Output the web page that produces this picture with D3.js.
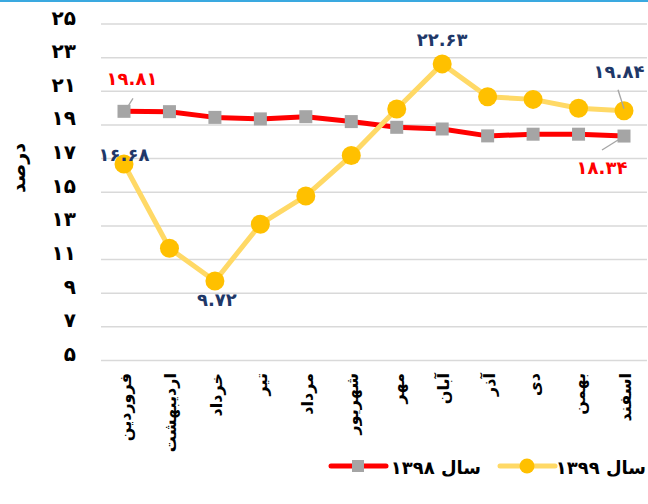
<!DOCTYPE html>
<html>
<head>
<meta charset="utf-8">
<script src="https://cdn.jsdelivr.net/npm/d3@7"></script>
<style>
  html, body { margin: 0; padding: 0; background: #fff; }
  svg { display: block; font-family: "DejaVu Sans", "Noto Sans", sans-serif; }
</style>
</head>
<body>
<svg id="chart" width="648" height="504"></svg>
<script>
// ---- data ----
const months = ["فروردین", "اردیبهشت", "خرداد", "تیر", "مرداد", "شهریور", "مهر", "آبان", "آذر", "دی", "بهمن", "اسفند"];
const series1398 = [19.81, 19.79, 19.45, 19.36, 19.49, 19.20, 18.86, 18.76, 18.35, 18.45, 18.45, 18.34];
const series1399 = [16.68, 11.67, 9.72, 13.10, 14.78, 17.18, 19.95, 22.63, 20.68, 20.52, 19.99, 19.84];
const yTicks = [5, 7, 9, 11, 13, 15, 17, 19, 21, 23, 25];
const seriesNames = ["سال ۱۳۹۸", "سال ۱۳۹۹"];
const yTitle = "درصد";

const fa = s => String(s).replace(/[0-9]/g, d => "۰۱۲۳۴۵۶۷۸۹"[+d]);
const fmt = v => fa(v.toFixed(2));

const svg = d3.select("#chart");

// top blue border
svg.append("rect").attr("x", 0).attr("y", 0).attr("width", 648).attr("height", 2).attr("fill", "#3aa9e0");

const x = d3.scalePoint().domain(months).range([124, 624]);
const y = d3.scaleLinear().domain([5, 25]).range([360.5, 24]);

// gridlines
svg.append("g").selectAll("line").data(yTicks).join("line")
  .attr("x1", 101).attr("x2", 647)
  .attr("y1", d => y(d)).attr("y2", d => y(d))
  .attr("stroke", "#d9d9d9").attr("stroke-width", 1.5);

// y axis labels
const yAxis = d3.axisLeft(y).tickValues(yTicks).tickFormat(d => fa(d)).tickSize(0).tickPadding(0);
const yg = svg.append("g").attr("transform", "translate(76,0)").call(yAxis);
yg.select(".domain").remove();
yg.selectAll("text")
  .attr("font-family", "DejaVu Sans").attr("font-weight", "bold")
  .attr("font-size", 20).attr("fill", "#000").attr("dy", "0em");

// y title
svg.append("text")
  .attr("transform", "translate(18,168) rotate(-90)")
  .attr("text-anchor", "middle").attr("dy", "0.35em")
  .attr("font-weight", "bold").attr("font-size", 19).attr("fill", "#000")
  .text(yTitle);

// x axis labels
const xAxis = d3.axisBottom(x).tickSize(0).tickPadding(0);
const xg = svg.append("g").attr("transform", "translate(0,373)").call(xAxis);
xg.select(".domain").remove();
xg.selectAll("text")
  .attr("font-family", "DejaVu Sans").attr("font-weight", "bold")
  .attr("font-size", 16).attr("fill", "#000")
  .attr("text-anchor", "end")
  .attr("transform", "rotate(-90)")
  .attr("x", 0).attr("y", 0).attr("dy", "0.4em");

const line = d3.line().x((d, i) => x(months[i])).y(d => y(d));

// series 1398
svg.append("path").datum(series1398).attr("d", line)
  .attr("fill", "none").attr("stroke", "#ff0000").attr("stroke-width", 5).attr("stroke-linejoin", "round");
svg.append("g").selectAll("rect").data(series1398).join("rect")
  .attr("x", (d, i) => x(months[i]) - 6.5).attr("y", d => y(d) - 6.5)
  .attr("width", 13).attr("height", 13).attr("fill", "#a5a5a5");

// series 1399
svg.append("path").datum(series1399).attr("d", line)
  .attr("fill", "none").attr("stroke", "#ffd966").attr("stroke-width", 5).attr("stroke-linejoin", "round");
svg.append("g").selectAll("circle").data(series1399).join("circle")
  .attr("cx", (d, i) => x(months[i])).attr("cy", d => y(d))
  .attr("r", 9.5).attr("fill", "#ffc000");

// leader lines
function leader(i, s, dx1, dy1, dx2, dy2) {
  const px = x(months[i]), py = y(s[i]);
  svg.append("line").attr("x1", px + dx1).attr("y1", py + dy1).attr("x2", px + dx2).attr("y2", py + dy2)
    .attr("stroke", "#a5a5a5").attr("stroke-width", 1.3);
}
leader(0, series1398, 4, -5, 9, -13);
leader(11, series1398, -6, 4, -22, 14);
leader(11, series1399, 0, -2, -6, -21);

// data labels
function dlabel(i, s, dx, dy, color, anchor) {
  svg.append("text")
    .attr("x", x(months[i]) + dx).attr("y", y(s[i]) + dy)
    .attr("text-anchor", anchor || "middle")
    .attr("font-weight", "bold").attr("font-size", 18).attr("fill", color)
    .text(fmt(s[i]));
}
const red = "#ff0000", navy = "#1f3868";
dlabel(0, series1398, 8, -26, red);
dlabel(11, series1398, -22, 38, red);
dlabel(0, series1399, 0, -3, navy);
dlabel(2, series1399, 2, 25, navy);
dlabel(7, series1399, 0, -18, navy);
dlabel(11, series1399, -5, -33, navy);

// legend
const ly = 466;
const lg = svg.append("g");
// 1398
lg.append("line").attr("x1", 331).attr("x2", 386).attr("y1", ly).attr("y2", ly)
  .attr("stroke", "#ff0000").attr("stroke-width", 5).attr("stroke-linecap", "round");
lg.append("rect").attr("x", 352).attr("y", ly - 6).attr("width", 12).attr("height", 12).attr("fill", "#a5a5a5");
lg.append("text").attr("x", 481).attr("y", ly + 8).attr("text-anchor", "end")
  .attr("font-weight", "bold").attr("font-size", 18).attr("fill", "#000").text(seriesNames[0]);
// 1399
lg.append("line").attr("x1", 500).attr("x2", 555).attr("y1", ly).attr("y2", ly)
  .attr("stroke", "#ffd966").attr("stroke-width", 5).attr("stroke-linecap", "round");
lg.append("circle").attr("cx", 527).attr("cy", ly).attr("r", 7.5).attr("fill", "#ffc000");
lg.append("text").attr("x", 646).attr("y", ly + 8).attr("text-anchor", "end")
  .attr("font-weight", "bold").attr("font-size", 18).attr("fill", "#000").text(seriesNames[1]);
</script>
</body>
</html>
